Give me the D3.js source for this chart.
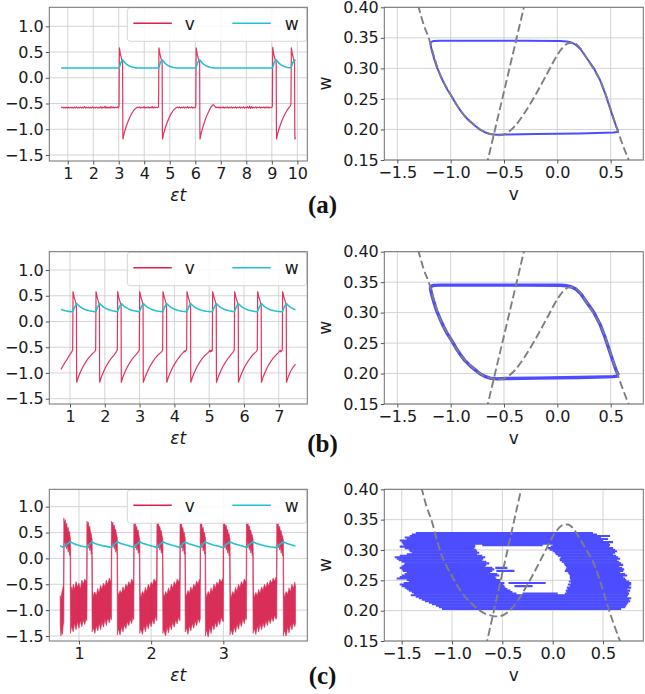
<!DOCTYPE html>
<html><head><meta charset="utf-8">
<script src="https://cdn.jsdelivr.net/npm/d3@7"></script>
<style>body{margin:0;background:#fff}</style>
</head><body><svg id="c" width="645" height="694"></svg>
<script>
// ---------- DATA ----------
const seriesNames = ["v", "w"];
const panelLabels = ["(a)", "(b)", "(c)"];
const leftYTicks = [-1.5, -1.0, -0.5, 0.0, 0.5, 1.0];
const xTicksA = [1,2,3,4,5,6,7,8,9,10];
const xTicksB = [1,2,3,4,5,6,7];
const xTicksC = [1,2,3];
const phaseXTicks = [-1.5, -1.0, -0.5, 0.0, 0.5];
const phaseYTicks = [0.15, 0.20, 0.25, 0.30, 0.35, 0.40];

// (a) time series  [t, v]
const vA = [[0.74,-0.58],[0.78,-0.57],[0.82,-0.585],[0.86,-0.575],[0.90,-0.588],[0.94,-0.572],[0.98,-0.585],[1.02,-0.575],[1.06,-0.588],[1.10,-0.57],[1.14,-0.585],[1.18,-0.575],[1.22,-0.59],[1.26,-0.572],[1.30,-0.585],[1.34,-0.565],[1.38,-0.59],[1.42,-0.575],[1.46,-0.585],[1.50,-0.57],[1.54,-0.588],[1.58,-0.575],[1.62,-0.585],[1.66,-0.56],[1.70,-0.59],[1.74,-0.57],[1.78,-0.585],[1.82,-0.572],[1.86,-0.588],[1.90,-0.575],[1.94,-0.585],[1.98,-0.565],[2.02,-0.59],[2.06,-0.575],[2.10,-0.585],[2.14,-0.57],[2.18,-0.59],[2.22,-0.575],[2.26,-0.585],[2.30,-0.56],[2.34,-0.592],[2.38,-0.57],[2.42,-0.585],[2.46,-0.555],[2.50,-0.59],[2.54,-0.565],[2.58,-0.588],[2.62,-0.57],[2.66,-0.59],[2.70,-0.56],[2.74,-0.585],[2.78,-0.565],[2.82,-0.59],[2.86,-0.57],[2.90,-0.585],[2.94,-0.565],[2.98,-0.585],
[3.01,-0.55],[3.025,0.58],[3.06,0.47],[3.11,0.37],[3.15,0.31],[3.16,-1.0],[3.165,-1.19],[3.21,-1.08],[3.27,-0.98],[3.34,-0.88],[3.42,-0.78],[3.50,-0.70],[3.58,-0.64],[3.65,-0.60],[3.71,-0.58],
[3.75,-0.57],[3.79,-0.585],[3.83,-0.565],[3.87,-0.588],[3.91,-0.57],[3.95,-0.585],[3.99,-0.562],[4.03,-0.59],[4.07,-0.57],[4.11,-0.585],[4.15,-0.565],[4.19,-0.59],[4.23,-0.57],[4.27,-0.585],[4.31,-0.56],[4.35,-0.59],[4.39,-0.565],[4.43,-0.585],[4.47,-0.57],[4.51,-0.585],[4.55,-0.57],
[4.56,-0.55],[4.575,0.58],[4.61,0.47],[4.66,0.37],[4.70,0.31],[4.71,-1.0],[4.715,-1.19],[4.76,-1.08],[4.82,-0.98],[4.89,-0.88],[4.97,-0.78],[5.05,-0.70],[5.13,-0.64],[5.20,-0.60],[5.26,-0.58],
[5.30,-0.57],[5.34,-0.585],[5.38,-0.565],[5.42,-0.588],[5.46,-0.57],[5.50,-0.585],[5.54,-0.565],[5.58,-0.59],[5.62,-0.57],[5.66,-0.585],[5.70,-0.56],[5.74,-0.59],[5.78,-0.57],[5.82,-0.585],[5.86,-0.565],[5.90,-0.588],[5.94,-0.57],[5.98,-0.585],[6.01,-0.575],
[6.02,-0.55],[6.035,0.58],[6.07,0.47],[6.12,0.37],[6.17,0.31],[6.18,-1.0],[6.185,-1.19],[6.23,-1.08],[6.29,-0.97],[6.36,-0.86],[6.44,-0.75],[6.52,-0.66],[6.60,-0.58],[6.66,-0.54],[6.71,-0.52],[6.76,-0.55],[6.81,-0.58],
[6.85,-0.57],[6.89,-0.585],[6.93,-0.565],[6.97,-0.588],[7.01,-0.57],[7.05,-0.585],[7.09,-0.565],[7.13,-0.59],[7.17,-0.572],[7.21,-0.585],[7.25,-0.568],[7.29,-0.588],[7.33,-0.572],[7.37,-0.585],[7.41,-0.565],[7.45,-0.59],[7.49,-0.57],[7.53,-0.585],[7.57,-0.568],[7.61,-0.588],[7.65,-0.57],[7.69,-0.585],[7.73,-0.565],[7.77,-0.59],[7.81,-0.57],[7.85,-0.585],[7.89,-0.565],[7.93,-0.59],[7.97,-0.57],[8.01,-0.585],[8.05,-0.56],[8.09,-0.592],[8.13,-0.555],[8.17,-0.595],[8.21,-0.56],[8.25,-0.588],[8.29,-0.57],[8.33,-0.585],[8.37,-0.565],[8.41,-0.59],[8.45,-0.57],[8.49,-0.585],[8.53,-0.565],[8.57,-0.59],[8.61,-0.57],[8.65,-0.585],[8.69,-0.565],[8.73,-0.59],[8.77,-0.568],[8.81,-0.585],[8.85,-0.565],[8.89,-0.59],[8.93,-0.57],[8.97,-0.585],[9.01,-0.57],
[9.02,-0.55],[9.035,0.59],[9.07,0.47],[9.12,0.37],[9.17,0.31],[9.18,-1.0],[9.185,-1.19],[9.23,-1.08],[9.29,-0.98],[9.36,-0.88],[9.44,-0.78],[9.52,-0.70],[9.60,-0.63],[9.67,-0.58],[9.72,-0.55],[9.75,-0.52],
[9.765,0.58],[9.80,0.47],[9.85,0.37],[9.89,0.31],[9.90,-1.0],[9.905,-1.19],[9.93,-1.16]];
const wA = [[0.74,0.19],[3.01,0.19],[3.04,0.23],[3.07,0.28],[3.11,0.32],[3.14,0.34],[3.16,0.347],[3.20,0.32],[3.24,0.295],[3.29,0.27],[3.36,0.245],[3.44,0.225],[3.52,0.21],[3.60,0.198],[3.71,0.192],[3.81,0.19],
[4.56,0.19],[4.59,0.23],[4.62,0.28],[4.66,0.32],[4.69,0.34],[4.71,0.347],[4.75,0.32],[4.79,0.295],[4.84,0.27],[4.91,0.245],[4.99,0.225],[5.07,0.21],[5.15,0.198],[5.26,0.192],[5.36,0.19],
[6.02,0.19],[6.05,0.23],[6.08,0.28],[6.12,0.32],[6.15,0.34],[6.18,0.347],[6.22,0.32],[6.26,0.295],[6.31,0.27],[6.38,0.245],[6.46,0.225],[6.54,0.21],[6.62,0.198],[6.73,0.192],[6.83,0.19],
[9.02,0.19],[9.05,0.23],[9.08,0.28],[9.12,0.32],[9.15,0.34],[9.18,0.347],[9.22,0.32],[9.26,0.295],[9.31,0.27],[9.38,0.245],[9.46,0.225],[9.54,0.21],[9.62,0.2],[9.70,0.196],[9.75,0.198],[9.78,0.24],[9.81,0.28],[9.85,0.32],[9.88,0.34],[9.90,0.345],[9.93,0.33]];

// (b) time series [t, v]
const vB = [[0.74,-0.93],[0.80,-0.86],[0.86,-0.79],[0.92,-0.73],[0.98,-0.66],[1.03,-0.61],[1.057,-0.58],[1.077,-0.55],
[1.087,0.58],[1.12,0.47],[1.16,0.38],[1.185,0.33],[1.19,-1.0],[1.192,-1.18],[1.24,-1.08],[1.30,-0.98],[1.37,-0.88],[1.45,-0.79],[1.53,-0.71],[1.61,-0.65],[1.67,-0.61],[1.718,-0.58],[1.738,-0.55],
[1.748,0.58],[1.78,0.47],[1.82,0.38],[1.846,0.33],[1.851,-1.0],[1.853,-1.18],[1.90,-1.08],[1.96,-0.98],[2.03,-0.88],[2.11,-0.79],[2.19,-0.71],[2.27,-0.65],[2.31,-0.61],[2.34,-0.58],[2.36,-0.55],
[2.37,0.58],[2.40,0.47],[2.44,0.38],[2.468,0.33],[2.473,-1.0],[2.475,-1.18],[2.52,-1.08],[2.58,-0.98],[2.65,-0.88],[2.73,-0.79],[2.81,-0.71],[2.89,-0.65],[2.94,-0.61],[2.972,-0.58],[2.992,-0.55],
[3.002,0.58],[3.04,0.47],[3.08,0.38],[3.10,0.33],[3.105,-1.0],[3.107,-1.18],[3.16,-1.08],[3.22,-0.98],[3.29,-0.88],[3.37,-0.79],[3.45,-0.71],[3.53,-0.65],[3.60,-0.61],[3.643,-0.58],[3.663,-0.55],
[3.673,0.58],[3.71,0.47],[3.75,0.38],[3.775,0.33],[3.78,-1.0],[3.782,-1.18],[3.83,-1.08],[3.89,-0.98],[3.96,-0.88],[4.04,-0.79],[4.12,-0.71],[4.20,-0.64],[4.26,-0.60],[4.29,-0.57],[4.31,-0.59],[4.33,-0.56],[4.353,-0.55],
[4.363,0.58],[4.40,0.47],[4.44,0.38],[4.465,0.33],[4.47,-1.0],[4.472,-1.18],[4.52,-1.08],[4.58,-0.98],[4.65,-0.88],[4.73,-0.79],[4.81,-0.71],[4.89,-0.65],[4.96,-0.61],[5.00,-0.58],[5.02,-0.56],[5.04,-0.59],[5.06,-0.56],[5.075,-0.58],[5.09,-0.55],
[5.10,0.58],[5.14,0.47],[5.18,0.38],[5.203,0.33],[5.208,-1.0],[5.21,-1.18],[5.26,-1.08],[5.32,-0.98],[5.39,-0.88],[5.47,-0.79],[5.55,-0.71],[5.62,-0.65],[5.67,-0.61],[5.702,-0.58],[5.722,-0.55],
[5.732,0.58],[5.77,0.47],[5.81,0.38],[5.835,0.33],[5.84,-1.0],[5.842,-1.18],[5.89,-1.08],[5.95,-0.98],[6.02,-0.88],[6.10,-0.79],[6.18,-0.71],[6.25,-0.65],[6.31,-0.61],[6.363,-0.58],[6.383,-0.55],
[6.393,0.58],[6.43,0.47],[6.47,0.38],[6.495,0.33],[6.50,-1.0],[6.502,-1.18],[6.55,-1.08],[6.61,-0.98],[6.68,-0.88],[6.76,-0.79],[6.84,-0.71],[6.92,-0.65],[6.98,-0.61],[7.02,-0.58],[7.04,-0.56],[7.06,-0.59],[7.08,-0.57],[7.101,-0.55],
[7.111,0.58],[7.15,0.47],[7.19,0.38],[7.215,0.33],[7.22,-1.0],[7.222,-1.18],[7.27,-1.08],[7.33,-0.98],[7.40,-0.90],[7.48,-0.83]];
const wB = [[0.74,0.235],[0.80,0.222],[0.87,0.208],[0.95,0.197],[1.03,0.191],
[1.077,0.19],[1.097,0.22],[1.127,0.27],[1.157,0.31],[1.187,0.34],[1.202,0.345],[1.237,0.32],[1.277,0.295],[1.327,0.27],[1.397,0.245],[1.477,0.225],[1.557,0.21],[1.637,0.198],[1.718,0.19],
[1.738,0.19],[1.758,0.22],[1.788,0.27],[1.818,0.31],[1.848,0.34],[1.863,0.345],[1.898,0.32],[1.938,0.295],[1.988,0.27],[2.058,0.245],[2.138,0.225],[2.218,0.21],[2.298,0.198],[2.34,0.192],
[2.36,0.19],[2.38,0.22],[2.41,0.27],[2.44,0.31],[2.47,0.34],[2.485,0.345],[2.52,0.32],[2.56,0.295],[2.61,0.27],[2.68,0.245],[2.76,0.225],[2.84,0.21],[2.92,0.198],[2.972,0.191],
[2.992,0.19],[3.012,0.22],[3.042,0.27],[3.072,0.31],[3.102,0.34],[3.117,0.345],[3.152,0.32],[3.192,0.295],[3.242,0.27],[3.312,0.245],[3.392,0.225],[3.472,0.21],[3.552,0.198],[3.643,0.19],
[3.663,0.19],[3.683,0.22],[3.713,0.27],[3.743,0.31],[3.773,0.34],[3.788,0.345],[3.823,0.32],[3.863,0.295],[3.913,0.27],[3.983,0.245],[4.063,0.225],[4.143,0.21],[4.223,0.198],[4.333,0.19],
[4.353,0.19],[4.373,0.22],[4.403,0.27],[4.433,0.31],[4.463,0.34],[4.478,0.345],[4.513,0.32],[4.553,0.295],[4.603,0.27],[4.673,0.245],[4.753,0.225],[4.833,0.21],[4.913,0.198],[5.07,0.19],
[5.09,0.19],[5.11,0.22],[5.14,0.27],[5.17,0.31],[5.20,0.34],[5.215,0.345],[5.25,0.32],[5.29,0.295],[5.34,0.27],[5.41,0.245],[5.49,0.225],[5.57,0.21],[5.65,0.198],[5.702,0.191],
[5.722,0.19],[5.742,0.22],[5.772,0.27],[5.802,0.31],[5.832,0.34],[5.847,0.345],[5.882,0.32],[5.922,0.295],[5.972,0.27],[6.042,0.245],[6.122,0.225],[6.202,0.21],[6.282,0.198],[6.363,0.19],
[6.383,0.19],[6.403,0.22],[6.433,0.27],[6.463,0.31],[6.493,0.34],[6.508,0.345],[6.543,0.32],[6.583,0.295],[6.633,0.27],[6.703,0.245],[6.783,0.225],[6.863,0.21],[6.943,0.198],[7.081,0.19],
[7.101,0.19],[7.121,0.22],[7.151,0.27],[7.181,0.31],[7.211,0.34],[7.226,0.345],[7.261,0.32],[7.301,0.295],[7.351,0.27],[7.421,0.245],[7.48,0.23]];

// (c) noisy v shown as its envelope [t, low, high]
const vCband = [[0.74,-1.30,-0.72],[0.75,-1.50,-0.80],[0.76,-1.40,-0.68],[0.77,-1.47,-0.62],[0.78,-1.32,-0.55],[0.786,-1.25,-0.50],
[0.79,-1.25,0.78],[0.795,0.28,0.72],[0.80,0.35,0.70],[0.81,0.22,0.75],[0.82,0.32,0.64],[0.83,0.18,0.68],[0.84,0.26,0.56],[0.85,0.12,0.60],[0.86,0.20,0.50],[0.87,0.06,0.52],[0.877,0.12,0.42],
[0.882,-1.45,0.40],[0.888,-1.40,-0.62],[0.90,-1.30,-0.55],[0.91,-1.38,-0.64],[0.92,-1.42,-0.50],[0.94,-1.25,-0.60],[0.95,-1.33,-0.52],[0.96,-1.38,-0.45],[0.98,-1.22,-0.55],[1.00,-1.35,-0.48],[1.01,-1.27,-0.56],[1.02,-1.20,-0.58],[1.04,-1.32,-0.42],[1.06,-1.18,-0.50],[1.07,-1.24,-0.44],[1.08,-1.28,-0.40],[1.10,-1.15,-0.45],[1.106,-1.20,-0.40],
[1.11,-1.20,0.72],[1.115,0.25,0.70],[1.12,0.32,0.66],[1.13,0.20,0.70],[1.14,0.28,0.58],[1.15,0.15,0.62],[1.16,0.22,0.50],[1.17,0.08,0.48],[1.177,0.12,0.40],
[1.182,-1.42,0.38],[1.188,-1.38,-0.62],[1.20,-1.35,-0.75],[1.21,-1.40,-0.68],[1.22,-1.45,-0.65],[1.24,-1.30,-0.72],[1.26,-1.40,-0.58],[1.27,-1.33,-0.63],[1.28,-1.25,-0.66],[1.30,-1.38,-0.52],[1.32,-1.22,-0.60],[1.33,-1.29,-0.53],[1.34,-1.33,-0.48],[1.36,-1.18,-0.55],[1.38,-1.30,-0.42],[1.39,-1.21,-0.47],[1.40,-1.15,-0.50],[1.42,-1.25,-0.38],[1.44,-1.12,-0.45],[1.446,-1.18,-0.40],
[1.45,-1.18,0.72],[1.455,0.28,0.70],[1.46,0.35,0.66],[1.47,0.22,0.70],[1.48,0.30,0.60],[1.49,0.18,0.64],[1.50,0.25,0.55],[1.51,0.12,0.56],[1.52,0.18,0.46],[1.527,0.06,0.42],
[1.532,-1.48,0.40],[1.538,-1.40,-0.64],[1.55,-1.38,-0.72],[1.56,-1.44,-0.66],[1.57,-1.48,-0.62],[1.59,-1.32,-0.68],[1.61,-1.42,-0.55],[1.62,-1.35,-0.60],[1.63,-1.28,-0.62],[1.65,-1.36,-0.50],[1.67,-1.22,-0.56],[1.68,-1.27,-0.50],[1.69,-1.30,-0.45],[1.71,-1.18,-0.52],[1.73,-1.26,-0.40],[1.75,-1.12,-0.46],[1.756,-1.18,-0.38],
[1.76,-1.18,0.70],[1.765,0.25,0.68],[1.77,0.32,0.65],[1.78,0.20,0.70],[1.79,0.28,0.58],[1.80,0.16,0.62],[1.81,0.24,0.52],[1.82,0.10,0.55],[1.83,0.16,0.45],[1.837,0.04,0.40],
[1.842,-1.45,0.38],[1.848,-1.40,-0.66],[1.86,-1.38,-0.75],[1.87,-1.43,-0.69],[1.88,-1.47,-0.64],[1.90,-1.30,-0.70],[1.92,-1.42,-0.56],[1.93,-1.34,-0.61],[1.94,-1.26,-0.64],[1.96,-1.36,-0.50],[1.98,-1.22,-0.58],[1.99,-1.28,-0.51],[2.00,-1.32,-0.46],[2.02,-1.18,-0.52],[2.04,-1.27,-0.40],[2.06,-1.12,-0.46],[2.075,-1.20,-0.38],
[2.08,-1.20,0.72],[2.085,0.26,0.70],[2.09,0.34,0.65],[2.10,0.20,0.70],[2.11,0.28,0.60],[2.12,0.16,0.62],[2.13,0.24,0.52],[2.14,0.10,0.54],[2.15,0.16,0.45],[2.157,0.04,0.40],
[2.162,-1.45,0.38],[2.168,-1.40,-0.68],[2.18,-1.40,-0.74],[2.19,-1.46,-0.70],[2.20,-1.50,-0.64],[2.22,-1.33,-0.70],[2.24,-1.44,-0.57],[2.25,-1.36,-0.62],[2.26,-1.28,-0.64],[2.28,-1.38,-0.50],[2.30,-1.22,-0.58],[2.31,-1.29,-0.51],[2.32,-1.33,-0.45],[2.34,-1.18,-0.52],[2.36,-1.27,-0.40],[2.38,-1.13,-0.46],[2.395,-1.20,-0.38],
[2.40,-1.20,0.70],[2.405,0.25,0.68],[2.41,0.32,0.64],[2.42,0.20,0.68],[2.43,0.28,0.56],[2.44,0.14,0.60],[2.45,0.22,0.48],[2.46,0.08,0.50],[2.467,0.12,0.42],
[2.472,-1.42,0.40],[2.478,-1.38,-0.66],[2.49,-1.35,-0.74],[2.50,-1.42,-0.67],[2.51,-1.47,-0.62],[2.53,-1.30,-0.68],[2.55,-1.40,-0.55],[2.56,-1.33,-0.60],[2.57,-1.25,-0.62],[2.59,-1.35,-0.50],[2.61,-1.20,-0.56],[2.62,-1.26,-0.49],[2.63,-1.30,-0.44],[2.65,-1.16,-0.50],[2.67,-1.24,-0.40],[2.676,-1.18,-0.42],
[2.68,-1.18,0.70],[2.685,0.26,0.68],[2.69,0.33,0.64],[2.70,0.20,0.68],[2.71,0.28,0.56],[2.72,0.14,0.60],[2.73,0.22,0.48],[2.74,0.08,0.50],[2.747,0.12,0.42],
[2.752,-1.50,0.40],[2.758,-1.42,-0.66],[2.77,-1.40,-0.76],[2.78,-1.47,-0.69],[2.79,-1.52,-0.64],[2.81,-1.34,-0.70],[2.83,-1.45,-0.57],[2.84,-1.37,-0.62],[2.85,-1.28,-0.64],[2.87,-1.38,-0.50],[2.89,-1.23,-0.58],[2.90,-1.30,-0.51],[2.91,-1.33,-0.46],[2.93,-1.19,-0.52],[2.95,-1.28,-0.40],[2.97,-1.14,-0.46],[2.995,-1.22,-0.38],
[3.00,-1.22,0.72],[3.005,0.26,0.70],[3.01,0.34,0.66],[3.02,0.20,0.70],[3.03,0.30,0.60],[3.04,0.16,0.64],[3.05,0.24,0.54],[3.06,0.10,0.56],[3.07,0.18,0.46],[3.08,0.05,0.48],[3.087,0.10,0.40],
[3.092,-1.48,0.38],[3.098,-1.42,-0.68],[3.11,-1.38,-0.76],[3.12,-1.44,-0.69],[3.13,-1.48,-0.64],[3.15,-1.32,-0.70],[3.17,-1.43,-0.56],[3.18,-1.35,-0.61],[3.19,-1.27,-0.63],[3.21,-1.37,-0.50],[3.23,-1.22,-0.57],[3.24,-1.28,-0.50],[3.25,-1.32,-0.45],[3.27,-1.17,-0.51],[3.29,-1.26,-0.40],[3.31,-1.13,-0.45],[3.316,-1.18,-0.38],
[3.32,-1.18,0.72],[3.325,0.26,0.70],[3.33,0.34,0.65],[3.34,0.20,0.70],[3.35,0.30,0.60],[3.36,0.16,0.63],[3.37,0.24,0.53],[3.38,0.10,0.55],[3.39,0.18,0.46],[3.40,0.05,0.46],[3.407,0.10,0.40],
[3.412,-1.45,0.38],[3.418,-1.40,-0.66],[3.43,-1.36,-0.76],[3.44,-1.42,-0.70],[3.45,-1.47,-0.66],[3.47,-1.30,-0.72],[3.49,-1.42,-0.60],[3.50,-1.34,-0.65],[3.51,-1.27,-0.67],[3.53,-1.38,-0.55],[3.55,-1.24,-0.62],[3.56,-1.30,-0.55],[3.57,-1.34,-0.50],[3.59,-1.20,-0.57],[3.61,-1.30,-0.46],[3.62,-1.23,-0.51],[3.63,-1.17,-0.53],[3.65,-1.26,-0.42],[3.67,-1.14,-0.48],[3.69,-1.22,-0.38],[3.71,-1.10,-0.44],[3.73,-1.18,-0.36],[3.736,-1.15,-0.38],
[3.74,-1.15,0.70],[3.745,0.26,0.68],[3.75,0.34,0.64],[3.76,0.20,0.68],[3.77,0.30,0.58],[3.78,0.16,0.62],[3.79,0.24,0.52],[3.80,0.10,0.54],[3.81,0.18,0.45],[3.82,0.05,0.44],[3.827,0.10,0.38],
[3.832,-1.50,0.36],[3.838,-1.44,-0.66],[3.85,-1.40,-0.76],[3.86,-1.46,-0.69],[3.87,-1.50,-0.64],[3.89,-1.33,-0.70],[3.91,-1.44,-0.57],[3.92,-1.36,-0.62],[3.93,-1.28,-0.64],[3.95,-1.38,-0.50],[3.97,-1.24,-0.58],[3.99,-1.32,-0.46],[4.00,-1.25,-0.55]];
const wC = [[0.74,0.245],[0.79,0.212],[0.83,0.27],[0.88,0.322],[0.92,0.29],[0.97,0.262],[1.03,0.238],[1.11,0.215],[1.14,0.27],[1.18,0.318],[1.23,0.285],[1.29,0.258],[1.36,0.237],[1.45,0.212],[1.49,0.27],[1.53,0.322],[1.58,0.29],[1.64,0.262],[1.70,0.238],[1.76,0.215],[1.80,0.27],[1.84,0.322],[1.89,0.29],[1.95,0.262],[2.01,0.238],[2.08,0.213],[2.12,0.27],[2.16,0.322],[2.21,0.29],[2.27,0.262],[2.33,0.238],[2.40,0.213],[2.43,0.27],[2.47,0.318],[2.52,0.285],[2.58,0.258],[2.68,0.215],[2.71,0.27],[2.75,0.318],[2.80,0.287],[2.86,0.26],[2.92,0.238],[3.00,0.212],[3.04,0.27],[3.09,0.322],[3.14,0.29],[3.20,0.262],[3.26,0.238],[3.32,0.213],[3.36,0.27],[3.41,0.322],[3.46,0.29],[3.52,0.262],[3.58,0.24],[3.66,0.22],[3.74,0.208],[3.78,0.27],[3.83,0.322],[3.88,0.29],[3.94,0.262],[4.00,0.24]];

// phase plane: limit cycle [v, w] (panels a, b)
const loopVW = [[0.572,0.197],[0.55,0.206],[0.52,0.221],[0.49,0.237],[0.45,0.258],[0.4,0.281],[0.34,0.301],[0.275,0.317],[0.22,0.331],[0.17,0.339],[0.13,0.3425],[0.09,0.344],[0.03,0.345],[-0.3,0.3452],[-0.8,0.3452],[-1.10,0.3452],[-1.16,0.3448],[-1.185,0.343],[-1.19,0.340],[-1.178,0.330],[-1.155,0.316],[-1.131,0.303],[-1.10,0.29],[-1.069,0.278],[-1.03,0.265],[-0.99,0.254],[-0.95,0.242],[-0.9125,0.232],[-0.87,0.222],[-0.819,0.213],[-0.77,0.206],[-0.725,0.1996],[-0.68,0.1955],[-0.631,0.1924],[-0.569,0.1913],[-0.475,0.1918],[-0.2,0.1925],[0.2,0.1935],[0.45,0.1945],[0.525,0.195],[0.56,0.1958],[0.572,0.197]];
// phase plane (c): horizontal trajectory strokes [w, vStart, vEnd]
const blobC = [[0.328,-1.36,0.40],[0.3255,-1.40,0.44],[0.323,-1.42,0.57],[0.3205,-1.47,0.48],[0.318,-1.45,0.55],[0.3155,-1.52,0.50],[0.313,-1.50,0.60],[0.3105,-1.49,0.56],
[0.308,-1.48,-0.77],[0.308,-0.70,-0.10],[0.308,0.0,0.57],[0.3055,-1.52,-0.77],[0.3055,-0.02,0.56],[0.303,-1.47,-0.78],[0.303,-0.05,0.60],[0.3005,-1.43,-0.76],[0.3005,-0.03,0.62],[0.298,-1.42,-0.75],[0.298,0.0,0.64],[0.2955,-1.40,-0.73],[0.2955,0.02,0.62],[0.293,-1.45,-0.75],[0.293,0.03,0.60],[0.2905,-1.52,-0.70],[0.2905,0.05,0.63],[0.288,-1.57,-0.67],[0.288,0.08,0.65],[0.2855,-1.55,-0.69],[0.2855,0.07,0.67],[0.283,-1.53,-0.70],[0.283,0.07,0.64],[0.2805,-1.50,-0.66],[0.2805,0.09,0.66],[0.278,-1.47,-0.63],[0.278,0.11,0.68],[0.2755,-1.48,-0.66],[0.2755,0.12,0.70],[0.273,-1.50,-0.67],[0.273,0.13,0.66],[0.2705,-1.52,-0.60],[0.2705,-0.57,-0.45],[0.2705,0.14,0.69],[0.268,-1.50,-0.58],[0.268,0.13,0.71],[0.2655,-1.49,-0.60],[0.2655,-0.56,-0.38],[0.2655,0.12,0.70],[0.263,-1.45,-0.62],[0.263,0.15,0.67],[0.2605,-1.47,-0.55],[0.2605,0.16,0.72],[0.258,-1.50,-0.53],[0.258,0.17,0.74],[0.2555,-1.52,-0.57],[0.2555,0.17,0.70],[0.253,-1.55,-0.56],[0.253,0.17,0.72],[0.2505,-1.45,-0.52],[0.2505,0.18,0.73],[0.248,-1.43,-0.52],[0.248,0.16,0.76],[0.2455,-1.48,-0.48],[0.2455,-0.44,-0.07],[0.2455,0.18,0.78],[0.243,-1.52,-0.49],[0.243,0.15,0.78],[0.2405,-1.50,-0.48],[0.2405,-0.38,-0.20],[0.2405,0.17,0.76],[0.238,-1.47,-0.47],[0.238,0.14,0.78],[0.2355,-1.45,-0.45],[0.2355,0.15,0.74],[0.233,-1.43,-0.42],[0.233,0.13,0.77],[0.2305,-1.40,-0.40],[0.2305,0.14,0.75],[0.228,-1.38,-0.36],[0.228,-0.30,0.05],[0.228,0.12,0.76],
[0.2255,-1.41,0.75],[0.223,-1.36,0.74],[0.2205,-1.33,0.78],[0.218,-1.30,0.76],[0.2155,-1.27,0.77],[0.213,-1.23,0.75],[0.2105,-1.20,0.74],[0.208,-1.16,0.73],[0.2055,-1.13,0.72],[0.203,-1.10,0.68]];
// nullclines [v, w]
const nullCubic = [[-1.36,0.44],[-1.3,0.40],[-1.25,0.37],[-1.2,0.347],[-1.19,0.341],[-1.15,0.316],[-1.1,0.290],[-1.05,0.272],[-1.0,0.257],[-0.95,0.242],[-0.9,0.229],[-0.8,0.211],[-0.7,0.1975],[-0.6,0.1915],[-0.55,0.1905],[-0.5,0.192],[-0.45,0.197],[-0.4,0.205],[-0.3,0.229],[-0.2,0.258],[-0.1,0.29],[0.0,0.322],[0.05,0.334],[0.1,0.341],[0.15,0.342],[0.2,0.336],[0.25,0.324],[0.3,0.31],[0.35,0.296],[0.4,0.281],[0.45,0.259],[0.5,0.233],[0.55,0.206],[0.6,0.181],[0.68,0.145]];
const nullLinear = [[-0.665,0.14],[-0.30,0.41]];

// ---------- LAYOUT ----------
const svg = d3.select("#c");
const SANS = "DejaVu Sans";
const RED = "#dc1f4e", CYAN = "#22c1cf", BLUE = "#4d4dff";
const fmt1 = d3.format(".1f"), fmt2 = d3.format(".2f"), fmt0 = d3.format("d");

const lefts = [
  {x0:49.3,x1:307.3,y0:7.3,y1:161,xd:[0.278,10.39],yd:[-1.617,1.369],xt:xTicksA,v:vA,w:wA},
  {x0:49.3,x1:307.3,y0:251.7,y1:404,xd:[0.405,7.82],yd:[-1.603,1.356],xt:xTicksB,v:vB,w:wB},
  {x0:49.3,x1:307.3,y0:489.3,y1:641,xd:[0.589,4.163],yd:[-1.597,1.336],xt:xTicksC,band:vCband,w:wC}
];
const rights = [
  {x0:384.3,x1:643.3,y0:7.3,y1:160,xd:[-1.622,0.806],loopW:2.0},
  {x0:384.3,x1:643.3,y0:251.7,y1:404,xd:[-1.622,0.806],loopW:3.4},
  {x0:384.3,x1:643.3,y0:489.3,y1:641,xd:[-1.673,0.9],blob:blobC}
];
const labelBase = [213, 452, 684];

function axesGrid(p, x, y, xt, yt) {
  const g = svg.append("g");
  g.selectAll("line.gx").data(xt).join("line")
    .attr("x1", d => x(d)).attr("x2", d => x(d)).attr("y1", p.y0).attr("y2", p.y1)
    .attr("stroke", "#cfcfcf").attr("stroke-width", 0.9);
  g.selectAll("line.gy").data(yt).join("line")
    .attr("y1", d => y(d)).attr("y2", d => y(d)).attr("x1", p.x0).attr("x2", p.x1)
    .attr("stroke", "#cfcfcf").attr("stroke-width", 0.9);
}
function axesTicks(p, x, y, xt, yt, xf, yf) {
  svg.append("rect").attr("x", p.x0).attr("y", p.y0).attr("width", p.x1 - p.x0).attr("height", p.y1 - p.y0)
    .attr("fill", "none").attr("stroke", "#707070").attr("stroke-width", 1);
  const gx = svg.append("g").attr("transform", `translate(0,${p.y1})`)
    .call(d3.axisBottom(x).tickValues(xt).tickFormat(xf).tickSize(3.5).tickPadding(3.5));
  const gy = svg.append("g").attr("transform", `translate(${p.x0},0)`)
    .call(d3.axisLeft(y).tickValues(yt).tickFormat(yf).tickSize(3.5).tickPadding(2));
  [gx, gy].forEach(g => {
    g.select(".domain").remove();
    g.selectAll("line").attr("stroke", "#555");
    g.selectAll("text").attr("font-size", "16px").attr("fill", "#1a1a1a").attr("font-family", SANS);
  });
}

// left panels
lefts.forEach((p, i) => {
  const x = d3.scaleLinear().domain(p.xd).range([p.x0, p.x1]);
  const y = d3.scaleLinear().domain(p.yd).range([p.y1, p.y0]);
  axesGrid(p, x, y, p.xt, leftYTicks);
  const line = d3.line().x(d => x(d[0])).y(d => y(d[1]));
  if (p.band) {
    svg.append("path").datum(p.band)
      .attr("d", d3.area().x(d => x(d[0])).y0(d => y(d[1])).y1(d => y(d[2])))
      .attr("fill", "#d6234f").attr("stroke", "#d6234f").attr("stroke-width", 0.6).attr("opacity", 0.95);
  } else {
    svg.append("path").datum(p.v).attr("d", line).attr("fill", "none")
      .attr("stroke", RED).attr("stroke-width", 1.2).attr("opacity", 0.9).attr("stroke-linejoin", "round");
  }
  svg.append("path").datum(p.w).attr("d", line).attr("fill", "none")
    .attr("stroke", CYAN).attr("stroke-width", 1.6).attr("stroke-linejoin", "round");
  // legend
  const lg = svg.append("g");
  lg.append("rect").attr("x", p.x1 - 180).attr("y", p.y0 + 0.5).attr("width", 179.5).attr("height", 33.5)
    .attr("rx", 3).attr("fill", "#fff").attr("fill-opacity", 0.85).attr("stroke", "#d6d6d6").attr("stroke-width", 1);
  const ly = p.y0 + 16;
  const items = [{n: seriesNames[0], c: RED, lx: p.x1 - 174, tx: p.x1 - 122.5},
                 {n: seriesNames[1], c: CYAN, lx: p.x1 - 75, tx: p.x1 - 22.5}];
  items.forEach(it => {
    lg.append("line").attr("x1", it.lx).attr("x2", it.lx + 38.5).attr("y1", ly).attr("y2", ly)
      .attr("stroke", it.c).attr("stroke-width", 1.6);
    lg.append("text").attr("x", it.tx).attr("y", ly + 6.5).attr("font-family", SANS)
      .attr("font-size", "17px").attr("fill", "#1a1a1a").text(it.n);
  });
  axesTicks(p, x, y, p.xt, leftYTicks, fmt0, fmt1);
  svg.append("text").attr("x", (p.x0 + p.x1) / 2).attr("y", p.y1 + 40).attr("text-anchor", "middle")
    .attr("font-family", SANS).attr("font-size", "17px").attr("font-style", "italic").attr("fill", "#1a1a1a").text("εt");
});

// right panels
rights.forEach((p, i) => {
  const x = d3.scaleLinear().domain(p.xd).range([p.x0, p.x1]);
  const y = d3.scaleLinear().domain([0.15, 0.40]).range([p.y1, p.y0]);
  axesGrid(p, x, y, phaseXTicks, phaseYTicks);
  const cid = "clip" + i;
  svg.append("clipPath").attr("id", cid).append("rect")
    .attr("x", p.x0).attr("y", p.y0).attr("width", p.x1 - p.x0).attr("height", p.y1 - p.y0);
  const g = svg.append("g").attr("clip-path", `url(#${cid})`);
  const line = d3.line().x(d => x(d[0])).y(d => y(d[1]));
  if (p.blob) {
    g.selectAll("line.b").data(p.blob).join("line")
      .attr("x1", d => x(d[1])).attr("x2", d => x(d[2])).attr("y1", d => y(d[0])).attr("y2", d => y(d[0]))
      .attr("stroke", BLUE).attr("stroke-width", 2.1);
  } else {
    g.append("path").datum(loopVW).attr("d", line).attr("fill", "none")
      .attr("stroke", BLUE).attr("stroke-width", p.loopW).attr("stroke-linejoin", "round");
  }
  const nline = d3.line().x(d => x(d[0])).y(d => y(d[1])).curve(d3.curveMonotoneX);
  [nullCubic, nullLinear].forEach(nc => {
    g.append("path").datum(nc).attr("d", nline).attr("fill", "none")
      .attr("stroke", "#7f7f7f").attr("stroke-width", 1.9).attr("stroke-dasharray", "8,3.5");
  });
  axesTicks(p, x, y, phaseXTicks, phaseYTicks, fmt1, fmt2);
  svg.append("text").attr("x", (p.x0 + p.x1) / 2).attr("y", p.y1 + 40).attr("text-anchor", "middle")
    .attr("font-family", SANS).attr("font-size", "17px").attr("fill", "#1a1a1a").text("v");
  svg.append("text").attr("transform", `translate(331,${(p.y0 + p.y1) / 2}) rotate(-90)`).attr("text-anchor", "middle")
    .attr("font-family", SANS).attr("font-size", "17px").attr("fill", "#1a1a1a").text("w");
  svg.append("text").attr("x", 322.5).attr("y", labelBase[i]).attr("text-anchor", "middle")
    .attr("font-family", "Liberation Serif").attr("font-weight", "bold").attr("font-size", "25px")
    .attr("fill", "#111").text(panelLabels[i]);
});
</script></body></html>
